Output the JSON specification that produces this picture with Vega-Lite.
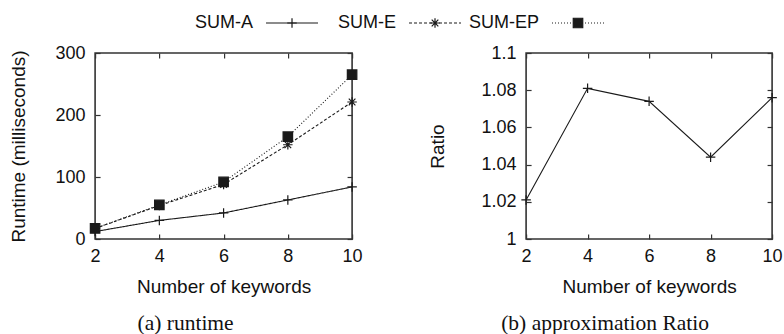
{
  "$schema": "https://vega.github.io/schema/vega-lite/v6.json",
  "padding": {"left": 8, "top": 13, "right": 0, "bottom": 0},
  "background": "white",
  "datasets": {
    "runtime": [
      {"k": 2, "series": "SUM-A", "ms": 12},
      {"k": 4, "series": "SUM-A", "ms": 30},
      {"k": 6, "series": "SUM-A", "ms": 42},
      {"k": 8, "series": "SUM-A", "ms": 63},
      {"k": 10, "series": "SUM-A", "ms": 84},
      {"k": 2, "series": "SUM-E", "ms": 17},
      {"k": 4, "series": "SUM-E", "ms": 54},
      {"k": 6, "series": "SUM-E", "ms": 88},
      {"k": 8, "series": "SUM-E", "ms": 152},
      {"k": 10, "series": "SUM-E", "ms": 221},
      {"k": 2, "series": "SUM-EP", "ms": 17},
      {"k": 4, "series": "SUM-EP", "ms": 55},
      {"k": 6, "series": "SUM-EP", "ms": 92},
      {"k": 8, "series": "SUM-EP", "ms": 165},
      {"k": 10, "series": "SUM-EP", "ms": 265}
    ],
    "ratio": [
      {"k": 2, "series": "SUM-A", "ratio": 1.021},
      {"k": 4, "series": "SUM-A", "ratio": 1.081},
      {"k": 6, "series": "SUM-A", "ratio": 1.074},
      {"k": 8, "series": "SUM-A", "ratio": 1.044},
      {"k": 10, "series": "SUM-A", "ratio": 1.076}
    ],
    "keys": [
      {"series": "SUM-A"},
      {"series": "SUM-E"},
      {"series": "SUM-EP"}
    ]
  },
  "config": {
    "view": {"stroke": "#333", "strokeWidth": 1.6},
    "legend": {"disable": true},
    "axis": {
      "domain": false,
      "grid": false,
      "labelFont": "Liberation Sans",
      "labelFontSize": 18,
      "labelColor": "#111",
      "labelFlush": false,
      "labelOverlap": false,
      "titleFont": "Liberation Sans",
      "titleFontSize": 19,
      "titleFontWeight": "normal",
      "titleColor": "#111",
      "tickColor": "#333",
      "tickWidth": 1.2,
      "tickSize": -5
    },
    "title": {
      "orient": "bottom",
      "frame": "bounds",
      "anchor": "middle",
      "font": "Liberation Serif",
      "fontSize": 21.5,
      "fontWeight": "normal",
      "color": "#111"
    }
  },
  "center": true,
  "spacing": 10,
  "vconcat": [
    {
      "data": {"name": "keys"},
      "width": 494,
      "height": 20,
      "view": {"stroke": null},
      "encoding": {
        "x": {"field": "series", "type": "nominal", "scale": {"type": "point", "padding": 0.7273, "align": 0.4808, "domain": ["SUM-A", "SUM-E", "SUM-EP"]}, "axis": null}
      },
      "layer": [
        {
          "mark": {"type": "point", "shape": "M-1,0L1,0", "size": 2704, "filled": false, "stroke": "#1a1a1a", "strokeWidth": 1.1, "opacity": 1},
          "encoding": {
            "strokeDash": {"field": "series", "type": "nominal", "scale": {"domain": ["SUM-A", "SUM-E", "SUM-EP"], "range": [[1, 0], [3, 2], [1, 2]]}, "legend": null}
          }
        },
        {
          "mark": {"type": "point", "filled": true, "fill": "#1a1a1a", "stroke": "#1a1a1a", "strokeWidth": 1.2, "size": 90, "opacity": 1},
          "encoding": {
            "shape": {"field": "series", "type": "nominal", "scale": {"domain": ["SUM-A", "SUM-E", "SUM-EP"], "range": ["M-1,0L1,0M0,-1L0,1", "M-1,0L1,0M0,-1L0,1M-0.7,-0.7L0.7,0.7M-0.7,0.7L0.7,-0.7", "square"]}, "legend": null}
          }
        },
        {
          "mark": {"type": "text", "align": "right", "baseline": "middle", "dx": -39, "font": "Liberation Sans", "fontSize": 18, "color": "#111"},
          "encoding": {"text": {"field": "series"}}
        }
      ]
    },
    {
      "spacing": 64,
      "hconcat": [
        {
          "data": {"name": "runtime"},
          "width": 257,
          "height": 186,
          "title": {"text": "(a) runtime", "offset": 17},
          "encoding": {
            "x": {"field": "k", "type": "quantitative", "scale": {"domain": [2, 10], "nice": false, "zero": false}},
            "y": {"field": "ms", "type": "quantitative", "scale": {"domain": [0, 300], "nice": false}}
          },
          "resolve": {"axis": {"x": "independent", "y": "independent"}},
          "layer": [
            {
              "mark": {"type": "line", "stroke": "#1a1a1a", "strokeWidth": 1.1},
              "encoding": {
                "x": {"field": "k", "type": "quantitative", "axis": {"orient": "bottom", "values": [2, 4, 6, 8, 10], "title": "Number of keywords", "labelPadding": 13, "titlePadding": 12}},
                "y": {"field": "ms", "type": "quantitative", "axis": {"orient": "left", "values": [0, 100, 200, 300], "title": "Runtime (milliseconds)", "labelPadding": 15, "titlePadding": 27}},
                "strokeDash": {"field": "series", "type": "nominal", "scale": {"domain": ["SUM-A", "SUM-E", "SUM-EP"], "range": [[1, 0], [3, 2], [1, 2]]}, "legend": null}
              }
            },
            {
              "mark": {"type": "point", "filled": true, "fill": "#1a1a1a", "stroke": "#1a1a1a", "strokeWidth": 1.2, "size": 90, "opacity": 1},
              "encoding": {
                "x": {"field": "k", "type": "quantitative", "axis": {"orient": "top", "values": [2, 4, 6, 8, 10], "labels": false, "title": null}},
                "y": {"field": "ms", "type": "quantitative", "axis": {"orient": "right", "values": [0, 100, 200, 300], "labels": false, "title": null}},
                "shape": {"field": "series", "type": "nominal", "scale": {"domain": ["SUM-A", "SUM-E", "SUM-EP"], "range": ["M-1,0L1,0M0,-1L0,1", "M-1,0L1,0M0,-1L0,1M-0.7,-0.7L0.7,0.7M-0.7,0.7L0.7,-0.7", "square"]}, "legend": null}
              }
            }
          ]
        },
        {
          "data": {"name": "ratio"},
          "width": 246,
          "height": 186,
          "title": {"text": "(b) approximation Ratio", "offset": 17},
          "encoding": {
            "x": {"field": "k", "type": "quantitative", "scale": {"domain": [2, 10], "nice": false, "zero": false}},
            "y": {"field": "ratio", "type": "quantitative", "scale": {"domain": [1, 1.1], "nice": false, "zero": false}}
          },
          "resolve": {"axis": {"x": "independent", "y": "independent"}},
          "layer": [
            {
              "mark": {"type": "line", "stroke": "#1a1a1a", "strokeWidth": 1.1},
              "encoding": {
                "x": {"field": "k", "type": "quantitative", "axis": {"orient": "bottom", "values": [2, 4, 6, 8, 10], "title": "Number of keywords", "labelPadding": 13, "titlePadding": 12}},
                "y": {"field": "ratio", "type": "quantitative", "axis": {"orient": "left", "values": [1, 1.02, 1.04, 1.06, 1.08, 1.1], "format": "~g", "title": "Ratio", "labelPadding": 15, "titlePadding": 34}}
              }
            },
            {
              "mark": {"type": "point", "filled": true, "fill": "#1a1a1a", "stroke": "#1a1a1a", "strokeWidth": 1.2, "size": 90, "opacity": 1, "shape": "M-1,0L1,0M0,-1L0,1"},
              "encoding": {
                "x": {"field": "k", "type": "quantitative", "axis": {"orient": "top", "values": [2, 4, 6, 8, 10], "labels": false, "title": null}},
                "y": {"field": "ratio", "type": "quantitative", "axis": {"orient": "right", "values": [1, 1.02, 1.04, 1.06, 1.08, 1.1], "labels": false, "title": null}}
              }
            }
          ]
        }
      ]
    }
  ]
}
